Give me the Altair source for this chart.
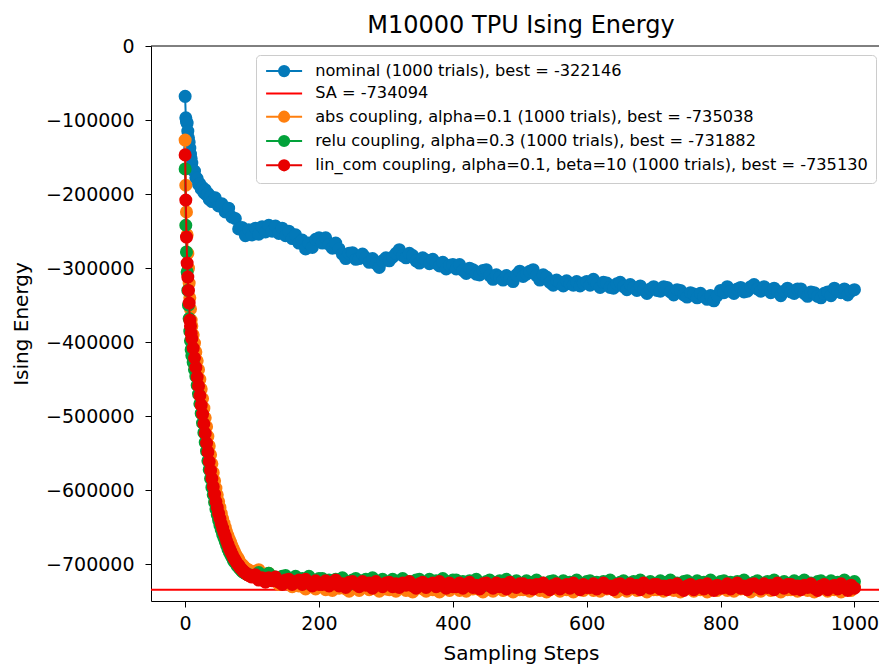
import altair as alt
import pandas as pd

TITLE = "M10000 TPU Ising Energy"
X_TITLE = "Sampling Steps"
Y_TITLE = "Ising Energy"

LABELS = [
    "nominal (1000 trials), best = -322146",
    "SA = -734094",
    "abs coupling, alpha=0.1 (1000 trials), best = -735038",
    "relu coupling, alpha=0.3 (1000 trials), best = -731882",
    "lin_com coupling, alpha=0.1, beta=10 (1000 trials), best = -735130",
]
COLORS = ["#0379b9", "#ff0000", "#ff7f0e", "#02a23a", "#e80000"]
SA_VALUE = -734094

X_TICKS = [0, 200, 400, 600, 800, 1000]
Y_TICKS = [0, -100000, -200000, -300000, -400000, -500000, -600000, -700000]

STEPS_NOMINAL = list(range(0, 10)) + list(range(10, 40, 2)) + list(range(40, 1001, 5))
# energies in thousands
NOMINAL_K = [
    -68, -97, -102, -104, -115, -124, -130, -138, -146, -152,
    -158, -168, -169, -178, -179, -187, -186, -193, -191, -198, -194, -201, -199, -207, -203,
    -210, -205, -216, -213, -224, -219, -231, -233, -247, -245, -256, -248, -255, -246, -254, -244,
    -251, -242, -250, -243, -253, -246, -256, -250, -260, -255, -266, -262, -274, -266, -272, -261,
    -259, -266, -259, -268, -273, -266, -274, -281, -287, -280, -279, -288, -287, -281, -286, -292,
    -287, -294, -299, -290, -286,
    -290, -285, -280, -275, -283, -286, -280, -283, -290, -293, -286, -289, -294, -288, -293, -297,
    -292, -301, -296, -295,
    -301, -295, -303, -307, -300, -302, -308, -309, -303, -302, -310, -315, -309, -312, -316, -310,
    -314, -318, -309, -304,
    -311, -308, -304, -302, -310, -316, -309, -312, -319, -323, -316, -319, -324, -317, -321, -323,
    -318, -324, -320, -318,
    -323, -315, -321, -326, -319, -320, -326, -327, -321, -319, -325, -329, -322, -326, -330, -324,
    -329, -334, -328, -325,
    -330, -331, -325, -326, -332, -336, -329, -330, -336, -339, -333, -335, -340, -334, -338, -342,
    -337, -344, -337, -330,
    -333, -325, -331, -334, -328, -326, -332, -331, -325, -322, -328, -331, -325, -329, -333, -327,
    -331, -337, -331, -327,
    -332, -334, -328, -328, -334, -338, -332, -333, -338, -340, -334, -332, -337, -327, -331, -333,
    -328, -336, -331, -329,
]

STEPS_COUPLED = list(range(0, 10)) + list(range(10, 101, 2)) + list(range(105, 1001, 5))

ABS_K = [
    -127, -188, -224, -255, -280, -300, -320, -340, -355, -370,
    -378, -390, -401, -413, -425, -437, -450, -463, -476, -489, -502, -514, -527, -540, -552,
    -564, -576, -587, -597, -606, -615, -623, -631, -638, -644, -650, -656, -661, -666, -670,
    -675, -679, -683, -687, -690, -693, -697, -699, -701, -703, -705, -706, -707, -708, -709, -710,
    -710, -707, -716, -713, -712, -721, -720, -727, -721, -721, -726, -730, -724, -729, -727, -733,
    -725, -729, -733, -728,
    -728, -734, -730, -735, -729, -732, -727, -733, -736, -730, -728, -735, -731, -729, -734, -727,
    -732, -736, -729, -733,
    -734, -729, -736, -731, -728, -735, -732, -737, -730, -729, -733, -736, -729, -734, -731, -737,
    -728, -732, -735, -730,
    -729, -735, -731, -736, -730, -733, -728, -734, -737, -731, -729, -736, -732, -730, -735, -728,
    -733, -737, -730, -734,
    -734, -729, -736, -731, -728, -735, -732, -737, -730, -729, -733, -736, -729, -734, -731, -737,
    -728, -732, -735, -730,
    -729, -735, -731, -736, -730, -733, -728, -734, -737, -731, -729, -736, -732, -730, -735, -728,
    -733, -737, -730, -734,
    -734, -729, -736, -731, -728, -735, -732, -737, -730, -729, -733, -736, -729, -734, -731, -737,
    -728, -732, -735, -730,
    -729, -735, -731, -736, -730, -733, -728, -734, -737, -731, -729, -736, -732, -730, -735, -728,
    -733, -737, -730, -734,
    -734, -729, -736, -731, -728, -735, -732, -737, -730, -729, -733, -736, -729, -734, -731, -737,
    -728, -732, -735, -730,
]

RELU_K = [
    -166, -242, -278, -305, -330, -350, -368, -385, -398, -410,
    -418, -427, -437, -446, -458, -470, -483, -496, -509, -522, -535, -547, -560, -572, -584,
    -596, -606, -616, -625, -633, -640, -647, -653, -659, -664, -669, -674, -679, -683, -687,
    -690, -694, -697, -699, -702, -704, -706, -708, -710, -711, -712, -713, -714, -714, -715, -715,
    -715, -711, -719, -715, -712, -720, -717, -723, -716, -715, -720, -723, -716, -722, -719, -725,
    -716, -721, -724, -719,
    -719, -725, -721, -726, -720, -723, -718, -724, -727, -721, -719, -726, -722, -720, -725, -718,
    -723, -727, -720, -724,
    -725, -720, -727, -722, -719, -726, -723, -728, -721, -720, -724, -727, -720, -725, -722, -728,
    -719, -723, -726, -721,
    -721, -727, -723, -728, -722, -725, -720, -726, -729, -723, -721, -728, -724, -722, -727, -720,
    -725, -729, -722, -726,
    -727, -722, -729, -724, -721, -728, -725, -730, -723, -722, -726, -729, -722, -727, -724, -730,
    -721, -725, -728, -723,
    -722, -728, -724, -729, -723, -726, -721, -727, -730, -724, -722, -729, -725, -723, -728, -721,
    -726, -730, -723, -727,
    -727, -722, -729, -724, -721, -728, -725, -730, -723, -722, -726, -729, -722, -727, -724, -730,
    -721, -725, -728, -723,
    -722, -728, -724, -729, -723, -726, -721, -727, -730, -724, -722, -729, -725, -723, -728, -721,
    -726, -730, -723, -727,
    -727, -722, -729, -724, -721, -728, -725, -730, -723, -722, -726, -729, -722, -727, -724, -730,
    -721, -725, -728, -723,
]

LINCOM_K = [
    -147, -208, -258, -293, -312, -330, -347, -370, -378, -388,
    -395, -408, -421, -434, -447, -459, -472, -485, -497, -510, -523, -536, -548, -561, -573,
    -584, -595, -605, -615, -623, -631, -638, -645, -651, -657, -662, -668, -673, -678, -682,
    -686, -690, -693, -696, -699, -701, -704, -706, -708, -710, -711, -713, -714, -715, -716, -717,
    -714, -721, -718, -724, -718, -722, -717, -724, -727, -721, -720, -727, -723, -721, -727, -720,
    -725, -729, -722, -727,
    -727, -722, -729, -724, -721, -729, -726, -731, -724, -723, -727, -730, -723, -728, -725, -732,
    -723, -727, -730, -725,
    -724, -730, -726, -731, -725, -728, -723, -729, -732, -726, -724, -731, -727, -725, -730, -723,
    -728, -732, -725, -730,
    -730, -725, -732, -727, -724, -731, -728, -733, -726, -725, -729, -732, -725, -730, -727, -733,
    -724, -728, -731, -726,
    -726, -732, -728, -733, -727, -730, -725, -731, -734, -728, -726, -733, -729, -727, -732, -725,
    -730, -734, -727, -731,
    -731, -726, -733, -728, -725, -732, -729, -734, -727, -726, -730, -733, -726, -731, -728, -734,
    -725, -729, -732, -727,
    -727, -733, -729, -734, -728, -731, -726, -732, -735, -729, -727, -734, -730, -728, -733, -726,
    -731, -735, -728, -732,
    -731, -726, -733, -728, -725, -732, -729, -734, -727, -726, -730, -733, -726, -731, -728, -734,
    -725, -729, -732, -727,
    -727, -733, -729, -734, -728, -731, -726, -732, -735, -729, -727, -734, -730, -728, -733, -726,
    -731, -735, -728, -732,
]


def frame(steps, values_k):
    assert len(steps) == len(values_k), (len(steps), len(values_k))
    return pd.DataFrame({"step": steps, "energy": [v * 1000 for v in values_k]})


X_ENC = alt.X("step:Q", scale=alt.Scale(domain=[-51, 1036.7], nice=False, zero=False),
              axis=alt.Axis(values=X_TICKS, format="d", title=X_TITLE, titleX=370))
Y_ENC = alt.Y("energy:Q", scale=alt.Scale(domain=[-749300, 0], nice=False, zero=False),
              axis=alt.Axis(values=Y_TICKS, format="d", title=Y_TITLE))

MARKER_SIZE = 170


def series_layers(df, color):
    base = alt.Chart(df)
    line = base.mark_line(color=color, strokeWidth=2).encode(x=X_ENC, y=Y_ENC)
    pts = base.mark_circle(color=color, size=MARKER_SIZE, opacity=1).encode(x=X_ENC, y=Y_ENC)
    return [line, pts]


nominal = series_layers(frame(STEPS_NOMINAL, NOMINAL_K), COLORS[0])
sa_rule = alt.Chart(pd.DataFrame({"v": [SA_VALUE]})).mark_rule(
    color=COLORS[1], strokeWidth=2).encode(y=alt.datum(SA_VALUE))
abs_l = series_layers(frame(STEPS_COUPLED, ABS_K), COLORS[2])
relu_l = series_layers(frame(STEPS_COUPLED, RELU_K), COLORS[3])
lincom_l = series_layers(frame(STEPS_COUPLED, LINCOM_K), COLORS[4])

top_spine = alt.Chart(pd.DataFrame({"v": [0]})).mark_rule(
    color="black", strokeWidth=1).encode(y=alt.datum(0))

# legend-only layer (no visible marks): line + marker symbols
LINE_MARKER = "M-1,0H5M2.85,0A0.85,0.85,0,1,1,1.15,0A0.85,0.85,0,1,1,2.85,0Z"
LINE_ONLY = "M-1,0H5"
SHAPES = [LINE_MARKER, LINE_ONLY, LINE_MARKER, LINE_MARKER, LINE_MARKER]

legend_df = pd.DataFrame({"series": LABELS, "step": [0] * 5, "energy": [0] * 5})
legend_layer = alt.Chart(legend_df).transform_filter("false").mark_point(
    opacity=1, strokeWidth=2).encode(
    x=X_ENC, y=Y_ENC,
    fill=alt.Fill("series:N", scale=alt.Scale(domain=LABELS, range=COLORS), legend=alt.Legend(title=None)),
    stroke=alt.Stroke("series:N", scale=alt.Scale(domain=LABELS, range=COLORS), legend=alt.Legend(title=None)),
    shape=alt.Shape("series:N", scale=alt.Scale(domain=LABELS, range=SHAPES), legend=alt.Legend(title=None)),
)

chart = alt.layer(
    *nominal, sa_rule, *abs_l, *relu_l, *lincom_l, top_spine, legend_layer
).properties(
    width=728,
    height=555,
    autosize=alt.AutoSizeParams(type="none"),
    padding={"left": 143, "top": 38, "right": 0, "bottom": 63},
    title=alt.TitleParams(TITLE, fontSize=24, font="DejaVu Sans", fontWeight="normal",
                          color="black", anchor="middle", frame="group",
                          baseline="top", offset=-1, dx=6),
).configure_view(
    stroke=None
).configure_axis(
    grid=False, domainColor="black", domainWidth=1, tickColor="black", tickWidth=1,
    tickSize=6, labelFont="DejaVu Sans", labelFontSize=19, labelColor="black",
    titleFont="DejaVu Sans", titleFontSize=20, titleFontWeight="normal", titleColor="black",
).configure_axisX(
    labelPadding=7, titlePadding=10
).configure_axisY(
    labelPadding=11, titlePadding=14
).configure_legend(
    orient="none", legendX=105, legendY=9, direction="vertical", padding=8,
    fillColor="white", strokeColor="#cccccc", cornerRadius=4,
    labelFont="DejaVu Sans", labelFontSize=16.2, labelColor="black", labelLimit=800,
    labelOffset=35, symbolSize=144, symbolStrokeWidth=2, symbolOpacity=1, rowPadding=4.3,
)

chart.save("out.html", embed_options={"renderer": "svg", "actions": False})
